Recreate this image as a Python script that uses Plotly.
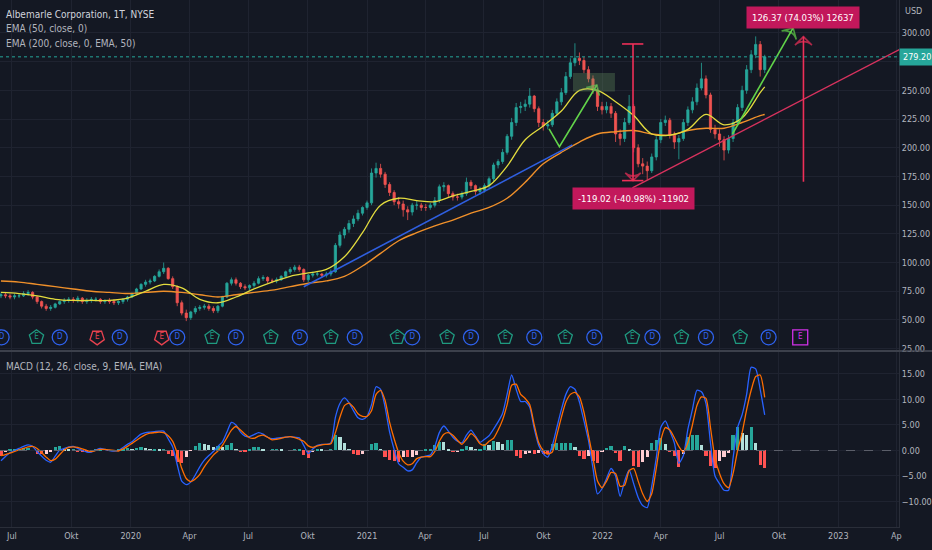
import pandas as pd
import plotly.graph_objects as go

week_start = "2019-06-14"
n_weeks = 170

opens = [
    71, 72, 71, 70, 71, 71, 73, 74, 70, 66,
    62, 60, 61, 64, 66, 67, 68, 67, 69, 66,
    67, 68, 68, 66, 67, 66, 65, 66, 68, 70,
    73, 77, 81, 83, 84, 88, 92, 95, 86, 79,
    65, 56, 52, 57, 60, 61, 62, 60, 58, 62,
    70, 82, 85, 82, 79, 78, 80, 82, 86, 87,
    84, 84, 85, 88, 92, 94, 96, 94, 85, 89,
    90, 90, 89, 90, 92, 115, 124, 129, 134, 138,
    143, 148, 152, 178, 182, 177, 168, 161, 153, 151,
    146, 144, 150, 150, 148, 148, 150, 154, 166, 167,
    160, 157, 157, 160, 170, 167, 162, 163, 167, 173,
    185, 188, 196, 210, 222, 235, 236, 238, 245, 234,
    222, 219, 220, 230, 240, 248, 262, 274, 278, 276,
    268, 260, 250, 236, 233, 236, 230, 212, 208, 222,
    236, 200, 186, 184, 180, 192, 207, 222, 224, 211,
    205, 208, 222, 233, 240, 252, 260, 246, 216, 212,
    207, 198, 208, 222, 235, 250, 268, 281, 290, 268,
]
highs = [
    74, 74, 73, 73, 73, 75, 76, 75, 71, 67,
    64, 63, 65, 67, 69, 70, 70, 71, 70, 69,
    70, 70, 69, 68, 69, 68, 67, 69, 71, 74,
    78, 82, 85, 86, 89, 94, 100, 96, 88, 80,
    67, 59, 58, 62, 63, 64, 64, 62, 63, 71,
    83, 87, 87, 83, 81, 81, 84, 88, 89, 88,
    86, 87, 89, 93, 96, 98, 98, 95, 90, 92,
    92, 91, 92, 94, 117, 127, 131, 137, 141, 146,
    149, 154, 182, 187, 186, 179, 170, 163, 157, 154,
    149, 152, 154, 152, 151, 152, 157, 168, 170, 168,
    162, 160, 162, 174, 172, 168, 166, 169, 175, 187,
    190, 199, 212, 226, 239, 240, 242, 252, 246, 236,
    225, 224, 233, 243, 252, 266, 278, 291, 283, 279,
    271, 263, 252, 240, 240, 239, 232, 216, 226, 246,
    238, 203, 191, 188, 195, 210, 225, 228, 226, 214,
    211, 225, 236, 244, 256, 274, 263, 248, 220, 216,
    210, 211, 225, 238, 254, 272, 285, 297, 293, 281,
]
lows = [
    69, 69, 68, 68, 69, 70, 71, 68, 64, 60,
    58, 58, 60, 63, 64, 65, 65, 65, 64, 64,
    65, 66, 64, 64, 64, 63, 63, 64, 66, 69,
    72, 76, 79, 81, 83, 87, 90, 85, 77, 62,
    54, 49, 50, 55, 58, 59, 58, 56, 56, 61,
    69, 80, 80, 77, 76, 76, 78, 81, 84, 82,
    82, 82, 84, 87, 90, 92, 92, 83, 83, 87,
    88, 87, 87, 88, 91, 113, 121, 126, 131, 136,
    141, 146, 150, 174, 174, 165, 158, 150, 147, 140,
    137, 141, 146, 145, 145, 146, 148, 152, 162, 157,
    154, 154, 155, 158, 164, 159, 159, 161, 165, 171,
    182, 186, 194, 207, 219, 230, 232, 235, 231, 218,
    215, 216, 218, 228, 237, 246, 260, 271, 272, 265,
    257, 247, 232, 229, 230, 226, 205, 202, 205, 220,
    196, 183, 177, 172, 178, 189, 204, 219, 208, 199,
    190, 206, 219, 230, 237, 250, 243, 213, 208, 201,
    189, 195, 205, 219, 232, 247, 265, 278, 262, 265,
]
closes = [
    72, 71, 70, 71, 71, 73, 74, 70, 66, 62,
    60, 61, 64, 66, 67, 68, 67, 69, 66, 67,
    68, 68, 66, 67, 66, 65, 66, 68, 70, 73,
    77, 81, 83, 84, 88, 92, 95, 86, 79, 65,
    56, 52, 57, 60, 61, 62, 60, 58, 62, 70,
    82, 85, 82, 79, 78, 80, 82, 86, 87, 84,
    84, 85, 88, 92, 94, 96, 94, 85, 89, 90,
    90, 89, 90, 92, 115, 124, 129, 134, 138, 143,
    148, 152, 178, 182, 177, 168, 161, 153, 151, 146,
    144, 150, 150, 148, 148, 150, 154, 166, 167, 160,
    157, 157, 160, 170, 167, 162, 163, 167, 173, 185,
    188, 196, 210, 222, 235, 236, 238, 245, 234, 222,
    219, 220, 230, 240, 248, 262, 274, 278, 276, 268,
    260, 250, 236, 233, 236, 230, 212, 208, 222, 236,
    200, 186, 184, 180, 192, 207, 222, 224, 211, 205,
    208, 222, 233, 240, 252, 260, 246, 216, 212, 207,
    198, 208, 222, 235, 250, 268, 281, 290, 268, 279.2,
]
last_price = 279.20

# moving averages, read every 4th week
ema_weeks = [0, 4, 8, 12, 16, 20, 24, 28, 32, 36, 40, 44, 48, 52, 56, 60, 64, 68, 72, 76,
             80, 84, 88, 92, 96, 100, 104, 108, 112, 116, 120, 124, 128, 132, 136, 140,
             144, 148, 152, 156, 160, 164, 168, 169]
ema50 = [74, 73, 71, 68, 67, 67, 67, 69, 75, 81,
         78, 68, 65, 70, 77, 83, 88, 91, 94, 105,
         126, 150, 156, 154, 153, 158, 162, 167, 184, 207,
         219, 232, 250, 250, 240, 228, 212, 211, 216, 229,
         220, 226, 248, 253]
ema200 = [84, 83, 81, 79, 77, 75, 74, 73, 74, 75,
          74, 72, 70, 72, 74, 76, 79, 82, 84, 88,
          97, 108, 119, 126, 132, 137, 143, 148, 156, 170,
          186, 196, 205, 212, 214, 215, 212, 211, 215, 217,
          217, 222, 228, 229]

# MACD (12, 26, 9), weekly readings
macd = [
    -2.0, -1.2, -0.4, 0.0, 0.4, 0.8, 1.1, 0.8, -0.2, -1.1,
    -1.9, -2.3, -1.1, 0.1, 0.4, 0.7, 0.8, 0.4, 0.0, -0.3,
    -0.3, 0.1, 0.4, 0.2, 0.0, -0.1, 0.0, 0.6, 1.2, 1.7,
    2.5, 3.2, 3.5, 3.6, 3.7, 3.8, 3.8, 2.3, 0.7, -2.8,
    -6.0, -6.7, -6.2, -4.8, -3.2, -1.9, -1.0, -0.2, 0.8, 1.7,
    3.6, 5.5, 5.0, 3.6, 2.8, 2.7, 3.1, 3.5, 3.2, 2.6,
    2.3, 2.4, 2.5, 2.6, 2.7, 2.6, 2.5, 1.0, -0.6, 0.3,
    1.0, 1.2, 1.2, 1.5, 6.5, 9.2, 10.3, 9.4, 7.8, 6.4,
    6.1, 6.7, 9.0, 12.5, 12.0, 8.5, 3.6, 0.2, -2.6, -3.3,
    -4.0, -3.8, -2.4, -1.3, -1.1, -0.9, 0.8, 3.5, 4.8, 3.8,
    2.6, 1.8, 1.5, 3.0, 4.0, 2.8, 1.6, 2.2, 2.9, 4.2,
    5.6, 7.3, 11.0, 14.8, 12.0, 9.6, 9.6, 8.5, 4.3, 1.0,
    -0.6, -1.3, 1.0, 4.5, 8.0, 11.0, 12.5, 12.0, 9.5, 5.8,
    2.0, -3.5, -8.5, -7.5, -5.5, -3.5, -5.0, -9.0, -6.0, -3.8,
    -6.5, -9.2, -10.8, -11.2, -7.0, -1.5, 4.5, 5.8, 3.8, 1.5,
    -2.5, -1.0, 4.2, 8.0, 11.8, 11.5, 9.2, 1.5, -5.0, -6.5,
    -7.8, -7.8, -1.5, 4.5, 7.0, 11.0, 16.3, 16.0, 12.0, 7.0,
]
signal = [
    -1.0, -0.8, -0.5, -0.2, 0.1, 0.4, 0.7, 0.8, 0.4, -0.4,
    -1.3, -2.0, -1.7, -0.8, 0.1, 0.6, 0.7, 0.6, 0.3, 0.0,
    -0.2, 0.0, 0.2, 0.2, 0.1, 0.0, -0.1, 0.3, 0.8, 1.4,
    2.0, 2.6, 3.1, 3.4, 3.5, 3.6, 3.5, 2.9, 1.8, -0.5,
    -3.5, -5.5, -6.1, -5.6, -4.7, -3.2, -2.0, -0.9, -0.1, 1.0,
    2.5, 4.0, 4.7, 4.0, 3.2, 2.5, 2.4, 2.8, 3.0, 2.6,
    2.1, 2.2, 2.4, 2.6, 2.7, 2.5, 2.2, 1.8, 0.9, 0.6,
    0.9, 1.1, 1.2, 1.3, 3.5, 6.5, 8.8, 9.3, 8.5, 7.2,
    6.7, 6.7, 7.8, 11.0, 11.8, 9.8, 5.5, 2.3, -0.4, -2.1,
    -2.8, -2.6, -1.6, -1.3, -1.2, -1.2, -0.2, 1.8, 3.2, 3.5,
    3.0, 2.0, 1.2, 2.2, 3.3, 2.6, 1.3, 1.0, 1.8, 2.4,
    4.0, 6.0, 9.0, 12.8, 13.0, 11.0, 10.2, 9.0, 5.0, 1.5,
    0.0, -0.7, -0.3, 3.0, 6.5, 9.5, 11.0, 11.4, 10.5, 7.5,
    3.0, -1.5, -6.0, -7.3, -6.0, -4.3, -4.5, -7.0, -6.8, -4.0,
    -3.5, -6.0, -8.5, -10.0, -8.5, -3.5, 2.0, 4.5, 4.0, 2.5,
    0.8, -0.3, 1.5, 5.0, 8.8, 10.5, 10.2, 4.5, -1.5, -4.5,
    -6.5, -7.3, -4.5, 0.0, 3.5, 8.0, 11.8, 14.5, 14.8, 10.4,
]

# dividend / earnings events shown along the bottom of the price pane
dividend_dates = ["2019-06-15", "2019-09-13", "2019-12-15", "2020-03-13", "2020-06-12",
                  "2020-09-19", "2020-12-13", "2021-03-12", "2021-06-11", "2021-09-17",
                  "2021-12-19", "2022-03-19", "2022-06-10", "2022-09-15"]
earnings_beat = ["2019-08-08", "2020-05-06", "2020-08-05", "2020-11-06", "2021-02-17",
                 "2021-05-05", "2021-08-03", "2021-11-04", "2022-02-16", "2022-05-03",
                 "2022-08-02"]
earnings_miss = ["2019-11-10", "2020-02-18"]
earnings_next = ["2022-11-03"]

# user drawings (date, price)
blue_trend = (["2020-09-25", "2021-11-15"], [79, 202.5])
pink_trend = (["2022-02-16", "2023-05-01"], [165, 293])
green_zigzag = (["2021-10-10", "2021-10-26", "2021-12-23"], [216.4, 201, 254.7])
green_arrow = (["2022-07-21", "2022-10-23"], [212, 304.4])
drop_range = (["2022-01-31", "2022-02-17", "2022-03-05"], [290.4, 171.4])
rise_range = ("2022-11-08", [170.4, 296.8])
drop_label = "-119.02 (-40.98%) -11902"
rise_label = "126.37 (74.03%) 12637"

tick_vals = ["2019-07-01", "2019-10-01", "2020-01-01", "2020-04-01", "2020-07-01",
             "2020-10-01", "2021-01-01", "2021-04-01", "2021-07-01", "2021-10-01",
             "2022-01-01", "2022-04-01", "2022-07-01", "2022-10-01", "2023-01-01",
             "2023-04-01"]
tick_text = ["Jul", "Okt", "2020", "Apr", "Jul", "Okt", "2021", "Apr", "Jul", "Okt",
             "2022", "Apr", "Jul", "Okt", "2023", "Ap"]
price_ticks = list(range(25, 301, 25))
# 275 sits under the last-price tag, so its label is left blank
price_labels = ["" if v == 275 else f"{v:.2f}" for v in price_ticks]

BG = "#141823"
GRID = "#1f2330"
TXT = "#b2b5be"
FONT = "DejaVu Sans Condensed, Liberation Sans Narrow, Roboto, sans-serif"
UP, DOWN = "#26a69a", "#ef5350"

dates = pd.date_range(week_start, periods=n_weeks, freq="7D")
ema_dates = dates[ema_weeks]

hist = [m - s for m, s in zip(macd, signal)]
hist_colors = []
for i, h in enumerate(hist):
    prev = hist[i - 1] if i else h
    if h >= 0:
        hist_colors.append("#26a69a" if h >= prev else "#b2dfdb")
    else:
        hist_colors.append("#ffcdd2" if h > prev else "#ff5252")

fig = go.Figure()

fig.add_trace(go.Candlestick(
    x=dates, open=opens, high=highs, low=lows, close=closes,
    increasing=dict(line=dict(color=UP, width=0.8), fillcolor=UP),
    decreasing=dict(line=dict(color=DOWN, width=0.8), fillcolor=DOWN),
    whiskerwidth=0, xaxis="x", yaxis="y", hoverinfo="skip"))

fig.add_trace(go.Scatter(x=ema_dates, y=ema200, mode="lines", yaxis="y",
                         line=dict(color="#f0902a", width=1.4, shape="spline")))
fig.add_trace(go.Scatter(x=ema_dates, y=ema50, mode="lines", yaxis="y",
                         line=dict(color="#e3dc3e", width=1.3, shape="spline")))

# drawings
fig.add_trace(go.Scatter(x=blue_trend[0], y=blue_trend[1], mode="lines", yaxis="y",
                         line=dict(color="#2f5fe0", width=1.6)))
fig.add_trace(go.Scatter(x=pink_trend[0], y=pink_trend[1], mode="lines", yaxis="y",
                         line=dict(color="#d8325e", width=1.4)))

fig.add_shape(type="rect", xref="x", yref="y",
              x0="2021-11-16", x1="2022-01-20", y0=249, y1=265.2,
              fillcolor="rgba(105,150,100,0.32)", line=dict(width=0), layer="above")

green = "#62d44a"
fig.add_trace(go.Scatter(
    x=green_zigzag[0], y=green_zigzag[1], mode="lines+markers", yaxis="y",
    line=dict(color=green, width=1.6),
    marker=dict(symbol="arrow-wide-open", size=[0, 0, 11], angleref="previous",
                color=green, line=dict(color=green, width=1.6))))
fig.add_trace(go.Scatter(
    x=green_arrow[0], y=green_arrow[1], mode="lines+markers", yaxis="y",
    line=dict(color=green, width=1.6),
    marker=dict(symbol="arrow-wide-open", size=[0, 12], angleref="previous",
                color=green, line=dict(color=green, width=1.6))))

red = "#ef2f58"
d0, dm, d1 = drop_range[0]
top, bottom = drop_range[1]
fig.add_trace(go.Scatter(
    x=[d0, d1, None, d0, d1], y=[top, top, None, bottom, bottom],
    mode="lines", yaxis="y", line=dict(color=red, width=1.6)))
fig.add_trace(go.Scatter(
    x=[dm, dm], y=[top, bottom], mode="lines+markers", yaxis="y",
    line=dict(color=red, width=1.6),
    marker=dict(symbol="arrow-wide-open", size=[0, 11], angleref="previous",
                color=red, line=dict(color=red, width=1.6))))
fig.add_trace(go.Scatter(
    x=[rise_range[0], rise_range[0]], y=rise_range[1], mode="lines+markers", yaxis="y",
    line=dict(color=red, width=1.6),
    marker=dict(symbol="arrow-wide-open", size=[0, 12], angleref="previous",
                color=red, line=dict(color=red, width=1.6))))

fig.add_annotation(x=dm, y=bottom - 16, xref="x", yref="y", text=drop_label,
                   showarrow=False, bgcolor="#c2185b", borderpad=5,
                   font=dict(color="white", size=9.5, family=FONT))
fig.add_annotation(x=rise_range[0], y=rise_range[1][1] + 17, xref="x", yref="y",
                   text=rise_label, showarrow=False, bgcolor="#c2185b", borderpad=5,
                   font=dict(color="white", size=9.5, family=FONT))

# last price line
fig.add_shape(type="line", xref="paper", yref="y", x0=0, x1=1, y0=last_price,
              y1=last_price, line=dict(color=UP, width=1, dash="dot"))

# event badges on an overlay axis
EV_Y = 0.036
def badges(ds, symbol, color, letter, angle=0):
    fig.add_trace(go.Scatter(
        x=ds, y=[EV_Y] * len(ds), yaxis="y3", mode="markers+text",
        text=[letter] * len(ds), textposition="middle center",
        textfont=dict(color=color, size=8, family=FONT),
        marker=dict(symbol=symbol, size=15, angle=angle, color=color,
                    line=dict(color=color, width=1.3))))

badges(dividend_dates, "circle-open", "#2f63f0", "D")
badges(earnings_beat, "pentagon-open", "#1f9a80", "E")
badges(earnings_miss, "pentagon-open", "#e8424f", "E", angle=180)
badges(earnings_next, "square-open", "#d030e8", "E")

# MACD pane
fig.add_trace(go.Bar(x=dates, y=hist, yaxis="y2", marker_color=hist_colors,
                     marker_line_width=0, width=5 * 86400000))
fig.add_shape(type="line", xref="paper", yref="y2", x0=0, x1=1, y0=0, y1=0,
              line=dict(color="#5d606b", width=1, dash="dash"))
fig.add_trace(go.Scatter(x=dates, y=macd, yaxis="y2", mode="lines",
                         line=dict(color="#2962ff", width=1.3, shape="spline", smoothing=0.6)))
fig.add_trace(go.Scatter(x=dates, y=signal, yaxis="y2", mode="lines",
                         line=dict(color="#ff6d00", width=1.3, shape="spline", smoothing=0.6)))

# pane separator
fig.add_shape(type="line", xref="paper", yref="paper", x0=0, x1=1.05, y0=0.334, y1=0.334,
              line=dict(color="#4a4e5a", width=1.5))

# header texts
for y, txt, col in [(0.973, "Albemarle Corporation, 1T, NYSE", "#d1d4dc"),
                    (0.945, "EMA (50, close, 0)", TXT),
                    (0.918, "EMA (200, close, 0, EMA, 50)", TXT),
                    (0.305, "MACD (12, 26, close, 9, EMA, EMA)", TXT)]:
    fig.add_annotation(x=0.005, y=y, xref="paper", yref="paper", text=txt, showarrow=False,
                       xanchor="left", yanchor="middle",
                       font=dict(color=col, size=10, family=FONT))

fig.add_annotation(x=1.005, y=0.98, xref="paper", yref="paper", text="USD", showarrow=False,
                   xanchor="left", yanchor="middle", font=dict(color=TXT, size=9, family=FONT))
fig.add_annotation(x=1.0, y=last_price, xref="paper", yref="y", text=f"{last_price:.2f}",
                   showarrow=False, xanchor="left", yanchor="middle", bgcolor=UP,
                   borderpad=3, font=dict(color="white", size=9, family=FONT))

axis_font = dict(size=9, color=TXT, family=FONT)
fig.update_layout(
    width=932, height=550,
    margin=dict(l=0, r=33, t=0, b=23),
    paper_bgcolor=BG, plot_bgcolor=BG,
    showlegend=False, bargap=0,
    font=dict(family=FONT, color=TXT, size=10),
    xaxis=dict(type="date", domain=[0, 1], anchor="y2",
               range=["2019-06-12 12:00", "2023-04-05"],
               tickvals=tick_vals, ticktext=tick_text,
               showgrid=True, gridcolor=GRID, zeroline=False,
               showline=True, linecolor="#2a2e39", ticks="",
               rangeslider=dict(visible=False), tickfont=axis_font),
    yaxis=dict(domain=[0.336, 1], anchor="x", side="right",
               range=[23.9, 328.7], tickvals=price_ticks, ticktext=price_labels,
               showgrid=True, gridcolor=GRID, zeroline=False, ticks="",
               showline=True, linecolor="#2a2e39", tickfont=axis_font),
    yaxis2=dict(domain=[0, 0.332], anchor="x", side="right",
                range=[-15, 19.3], tickvals=[-10, -5, 0, 5, 10, 15], tickformat=".2f",
                showgrid=True, gridcolor=GRID, zeroline=False, ticks="",
                showline=True, linecolor="#2a2e39", tickfont=axis_font),
    yaxis3=dict(domain=[0.336, 1], anchor="x", overlaying="y", range=[0, 1],
                visible=False),
)

# the page body has a default 8px margin; drop it so the chart fills the window
fig.write_html("out.html", config={"displayModeBar": False},
               post_script="document.body.style.margin='0';")
